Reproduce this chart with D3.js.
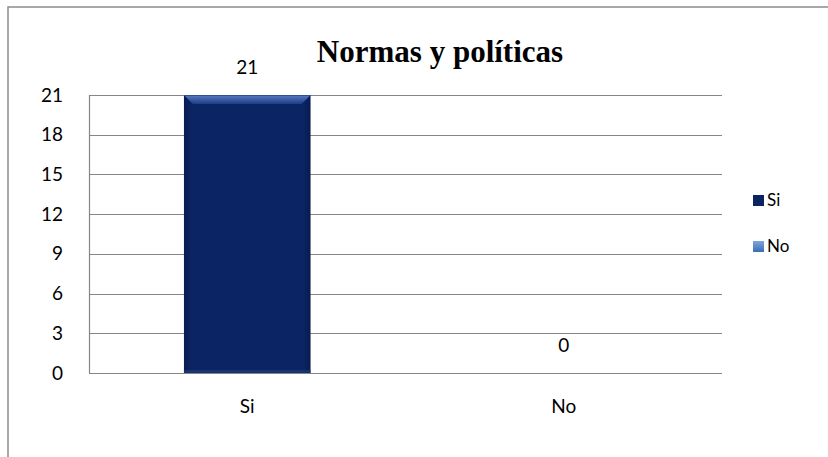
<!DOCTYPE html>
<html>
<head>
<meta charset="utf-8">
<script src="https://cdn.jsdelivr.net/npm/d3@7"></script>
<style>
  html, body { margin: 0; padding: 0; background: #fff; }
  svg { display: block; }
</style>
</head>
<body>
<svg id="chart" width="828" height="457"></svg>
<script>
// Survey answers: "Normas y políticas"
const categories = ["Si", "No"];
const values = [21, 0];
const seriesColors = ["#0b2461", "#4a7cc0"];
const yTicks = [0, 3, 6, 9, 12, 15, 18, 21];
const title = "Normas y políticas";

const W = 828, H = 457;
const plot = { left: 89, right: 722, top: 95, bottom: 373 };
const labelFont = "Lato, 'Open Sans', sans-serif";
const labelSize = 19;

const svg = d3.select("#chart");
svg.append("rect").attr("width", W).attr("height", H).attr("fill", "#fff");

// Chart frame (top and left edges)
svg.append("path")
  .attr("d", `M8,${H} L8,7 L${W},7`)
  .attr("fill", "none").attr("stroke", "#8c8c8c").attr("stroke-width", 1.5);

const x = d3.scaleBand().domain(categories)
  .range([plot.left, plot.right]).paddingInner(0.6).paddingOuter(0.3);
const y = d3.scaleLinear().domain([0, 21]).range([plot.bottom, plot.top]);

// Gridlines
svg.append("g").selectAll("line").data(yTicks).join("line")
  .attr("x1", plot.left).attr("x2", plot.right)
  .attr("y1", d => Math.round(y(d)) + 0.5).attr("y2", d => Math.round(y(d)) + 0.5)
  .attr("stroke", "#868686").attr("stroke-width", 1.2);

// Value axis line
svg.append("line")
  .attr("x1", plot.left + 0.5).attr("x2", plot.left + 0.5)
  .attr("y1", plot.top).attr("y2", plot.bottom)
  .attr("stroke", "#868686").attr("stroke-width", 1.2);

// Y axis labels
const yAxis = d3.axisLeft(y).tickValues(yTicks).tickSize(0).tickPadding(26);
const gy = svg.append("g").attr("transform", `translate(${plot.left},0)`).call(yAxis);
gy.select(".domain").remove();
gy.selectAll("text").attr("font-family", labelFont).attr("font-size", labelSize).attr("fill", "#000");

// Category axis labels
const xAxis = d3.axisBottom(x).tickSize(0).tickPadding(27);
const gx = svg.append("g").attr("transform", `translate(0,${plot.bottom})`).call(xAxis);
gx.select(".domain").remove();
gx.selectAll("text").attr("font-family", labelFont).attr("font-size", labelSize).attr("fill", "#000");

// Bar fill gradients
const defs = svg.append("defs");
const side = defs.append("linearGradient").attr("id", "barSide").attr("x1", 0).attr("x2", 1);
side.append("stop").attr("offset", 0).attr("stop-color", "#071b4f");
side.append("stop").attr("offset", 0.06).attr("stop-color", "#0b2463");
side.append("stop").attr("offset", 0.94).attr("stop-color", "#0b2463");
side.append("stop").attr("offset", 1).attr("stop-color", "#071b4f");
const bevel = defs.append("linearGradient").attr("id", "barTop").attr("x1", 0).attr("x2", 0).attr("y1", 0).attr("y2", 1);
bevel.append("stop").attr("offset", 0).attr("stop-color", "#5a7cc0");
bevel.append("stop").attr("offset", 1).attr("stop-color", "#1d3c86");
const legNo = defs.append("linearGradient").attr("id", "legNo").attr("x1", 0).attr("x2", 0).attr("y1", 0).attr("y2", 1);
legNo.append("stop").attr("offset", 0).attr("stop-color", "#7fa6dc");
legNo.append("stop").attr("offset", 1).attr("stop-color", "#3a6cb4");

const bars = svg.append("g");
categories.forEach((c, i) => {
  const v = values[i];
  if (v <= 0) return;
  const x0 = x(c), bw = x.bandwidth(), y0 = y(v), y1 = y(0);
  bars.append("rect")
    .attr("x", x0).attr("y", y0).attr("width", bw).attr("height", y1 - y0)
    .attr("fill", "url(#barSide)");
  const b = 9;
  bars.append("path")
    .attr("d", `M${x0},${y0} L${x0 + bw},${y0} L${x0 + bw - b},${y0 + b} L${x0 + b},${y0 + b} Z`)
    .attr("fill", "url(#barTop)");
  bars.append("line")
    .attr("x1", x0).attr("x2", x0 + bw).attr("y1", y0 + 0.5).attr("y2", y0 + 0.5)
    .attr("stroke", "#2f4f96").attr("stroke-width", 1);
  bars.append("rect")
    .attr("x", x0).attr("y", y1 - 3).attr("width", bw).attr("height", 3)
    .attr("fill", "#1f3a7a").attr("opacity", 0.7);
});

// Data labels
svg.append("g").selectAll("text").data(categories).join("text")
  .attr("x", d => x(d) + x.bandwidth() / 2)
  .attr("y", (d, i) => y(values[i]) - 21)
  .attr("text-anchor", "middle")
  .attr("font-family", labelFont).attr("font-size", labelSize).attr("fill", "#000")
  .text((d, i) => values[i]);

// Title
svg.append("text")
  .attr("x", 440).attr("y", 62).attr("text-anchor", "middle")
  .attr("font-family", "'Liberation Serif', 'Times New Roman', serif")
  .attr("font-weight", "bold").attr("font-size", 31).attr("fill", "#000")
  .text(title);

// Legend
const legend = svg.append("g").selectAll("g").data(categories).join("g")
  .attr("transform", (d, i) => `translate(753,${195 + i * 46})`);
legend.append("rect").attr("width", 11).attr("height", 11)
  .attr("fill", (d, i) => i === 0 ? seriesColors[0] : "url(#legNo)");
legend.append("text").attr("x", 14).attr("y", 11)
  .attr("font-family", labelFont).attr("font-size", 17).attr("fill", "#000")
  .text(d => d);
</script>
</body>
</html>
